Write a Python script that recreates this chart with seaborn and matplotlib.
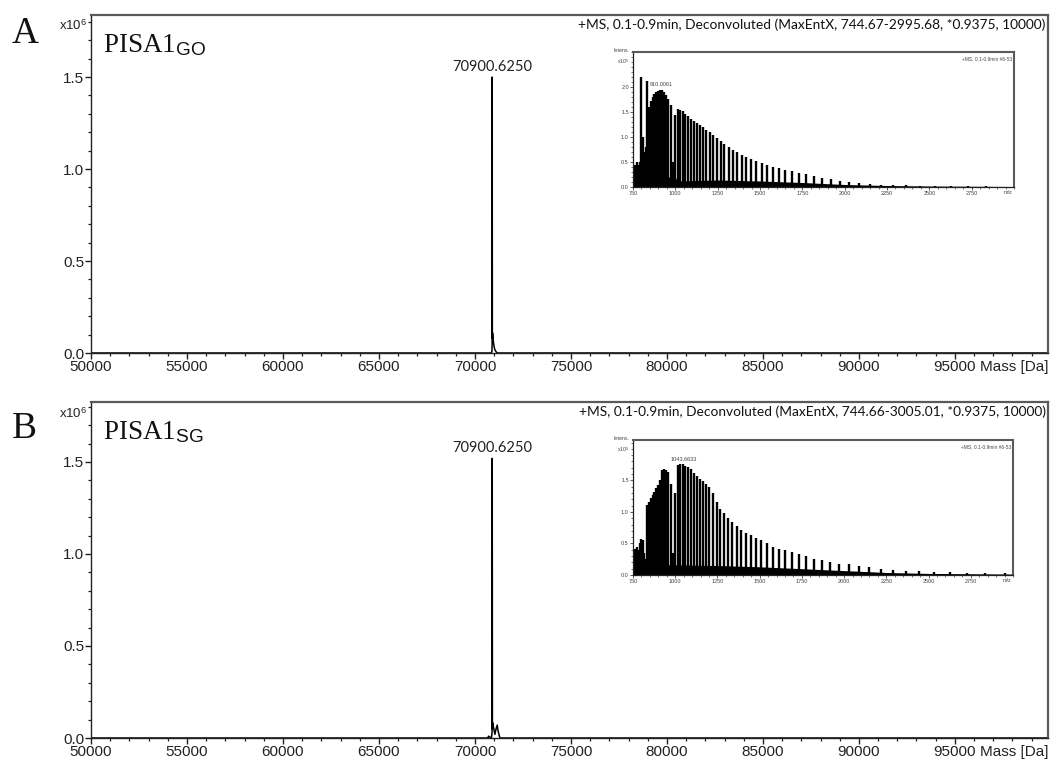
import matplotlib
matplotlib.use("Agg")
import matplotlib.pyplot as plt
import seaborn as sns
from matplotlib.ticker import MultipleLocator, FixedLocator

# ---------------- data ----------------
# main deconvoluted spectra (intensity in units of 1e6)
mass_A = [50000, 70850, 70885, 70895, 70900.625, 70906, 70915, 70935, 70960, 70990, 71030, 71080, 71150, 100000]
int_A = [0, 0, 0.01, 0.05, 1.50, 0.08, 0.11, 0.09, 0.06, 0.04, 0.02, 0.01, 0, 0]

mass_B = [50000, 70690, 70700, 70860, 70890, 70900.625, 70910, 70920, 70980, 71040, 71100, 71160, 71200, 71250, 71300, 100000]
int_B = [0, 0, 0.01, 0, 0.03, 1.52, 0.05, 0.083, 0.05, 0.02, 0.05, 0.07, 0.04, 0.02, 0, 0]

peak_label = "70900.6250"
peak_mass = 70900.625

# inset raw spectra: charge-state peak positions (m/z) and heights (x1e5)
mz_peaks = [747.3, 755.3, 763.4, 771.7, 780.1, 788.8, 797.6, 806.7, 816.0, 825.4,
            835.1, 845.0, 855.2, 865.6, 876.3, 887.3, 898.5, 910.0, 921.8, 933.9,
            946.3, 959.1, 972.2, 985.7, 999.6, 1013.9, 1028.5, 1043.6, 1059.2, 1075.2,
            1091.8, 1108.8, 1126.4, 1144.5, 1163.3, 1182.7, 1202.7, 1223.4, 1244.9, 1267.1,
            1290.1, 1314.0, 1338.7, 1364.5, 1391.2, 1419.0, 1447.9, 1478.1, 1509.5, 1542.3,
            1576.6, 1612.4, 1649.8, 1689.1, 1730.3, 1773.5, 1818.9, 1866.8, 1917.2, 1970.4,
            2026.7, 2086.3, 2149.5, 2216.6, 2288.1, 2364.3, 2445.8, 2533.1, 2626.9, 2727.9,
            2837.0, 2955.2]

h_A = [0.15, 0.30, 0.45, 0.50, 0.45, 0.50, 2.20, 1.00, 0.70, 0.80,
       2.12, 1.60, 1.72, 1.80, 1.86, 1.90, 1.93, 1.95, 1.94, 1.90,
       1.84, 1.77, 1.65, 0.50, 1.45, 1.57, 1.55, 1.52, 1.47, 1.42,
       1.37, 1.32, 1.28, 1.24, 1.20, 1.15, 1.10, 1.04, 0.98, 0.92,
       0.86, 0.80, 0.75, 0.70, 0.65, 0.61, 0.57, 0.53, 0.49, 0.45,
       0.41, 0.38, 0.35, 0.32, 0.29, 0.26, 0.22, 0.19, 0.16, 0.13,
       0.10, 0.08, 0.06, 0.05, 0.04, 0.035, 0.03, 0.025, 0.02, 0.02,
       0.015, 0.01]

h_B = [0.10, 0.20, 0.42, 0.45, 0.40, 0.50, 0.57, 0.55, 0.35, 0.25,
       1.11, 1.16, 1.22, 1.27, 1.32, 1.38, 1.43, 1.50, 1.66, 1.68,
       1.67, 1.63, 1.45, 0.35, 1.30, 1.75, 1.76, 1.76, 1.73, 1.71,
       1.68, 1.62, 1.57, 1.52, 1.49, 1.45, 1.40, 1.30, 1.15, 1.05,
       0.98, 0.90, 0.84, 0.78, 0.72, 0.67, 0.63, 0.59, 0.55, 0.50,
       0.45, 0.42, 0.39, 0.36, 0.33, 0.30, 0.26, 0.23, 0.20, 0.18,
       0.17, 0.15, 0.13, 0.10, 0.08, 0.07, 0.06, 0.05, 0.04, 0.035,
       0.03, 0.025]

floor_mz_A = [750, 760, 800, 1000, 1010, 1250, 1500, 1750, 2000, 2250, 2500, 3000]
floor_h_A = [0, 0.12, 0.20, 0.20, 0.12, 0.14, 0.12, 0.09, 0.05, 0.03, 0.02, 0.01]
floor_mz_B = [750, 760, 790, 830, 1000, 1250, 1500, 1750, 2000, 2250, 2500, 3000]
floor_h_B = [0, 0.10, 0.15, 0.17, 0.16, 0.15, 0.13, 0.10, 0.07, 0.04, 0.025, 0.015]

inset_label_A = ("910.0061", 910.0, 1.95)
inset_label_B = ("1043.6633", 1043.6, 1.76)

header_A = "+MS, 0.1-0.9min, Deconvoluted (MaxEntX, 744.67-2995.68, *0.9375, 10000)"
header_B = "+MS, 0.1-0.9min, Deconvoluted (MaxEntX, 744.66-3005.01, *0.9375, 10000)"
inset_header = "+MS, 0.1-0.9min #6-53"

x_major = 5000
inset_xticks = [750, 1000, 1250, 1500, 1750, 2000, 2250, 2500, 2750]

# ---------------- style ----------------
sns.set_style("ticks")
plt.rcParams["font.family"] = ["Liberation Sans", "DejaVu Sans"]
plt.rcParams["mathtext.fontset"] = "custom"
plt.rcParams["mathtext.rm"] = "Liberation Serif"
plt.rcParams["mathtext.sf"] = "Liberation Sans"
plt.rcParams["mathtext.it"] = "Liberation Serif:italic"
plt.rcParams["mathtext.bf"] = "Liberation Serif:bold"

W, H = 1050, 760
fig = plt.figure(figsize=(W / 100, H / 100), dpi=100)
fig.patch.set_facecolor("white")


def fig_rect(l, t, r, b):
    return [l / W, 1 - b / H, (r - l) / W, (b - t) / H]


def style_spines(ax, lw_lb=1.0, lw_tr=1.6):
    for s in ["left", "bottom"]:
        ax.spines[s].set_color("#222222")
        ax.spines[s].set_linewidth(lw_lb)
    for s in ["top", "right"]:
        ax.spines[s].set_visible(True)
        ax.spines[s].set_color("#5a5a5a")
        ax.spines[s].set_linewidth(lw_tr)


def main_panel(rect, mass, inten, ytop, letter, sub, header, ypix_letter, ypix_x10):
    ax = fig.add_axes(fig_rect(*rect))
    sns.lineplot(x=mass, y=inten, ax=ax, color="black", linewidth=1.1,
                 estimator=None, sort=False)
    ax.set_xlim(50000, 99850)
    ax.set_ylim(0, ytop)
    ax.xaxis.set_major_locator(MultipleLocator(x_major))
    ax.xaxis.set_minor_locator(MultipleLocator(1000))
    ax.yaxis.set_major_locator(MultipleLocator(0.5))
    ax.yaxis.set_minor_locator(MultipleLocator(0.1))
    ax.yaxis.set_major_formatter(matplotlib.ticker.FormatStrFormatter("%.1f"))
    ax.xaxis.set_major_formatter(matplotlib.ticker.FormatStrFormatter("%d"))
    ax.tick_params(axis="both", which="major", length=4, width=1.0, labelsize=11,
                   pad=1, direction="out", colors="#222222")
    ax.tick_params(axis="both", which="minor", length=2.5, width=0.9, direction="out",
                   colors="#222222")
    ax.set_xlabel("")
    ax.set_ylabel("")
    style_spines(ax)
    # raise the 0.0 label a little as in the reference
    fig.canvas.draw()
    labs = ax.get_yticklabels()
    if labs:
        labs[0].set_va("bottom")
    # texts
    ax.text(1.0, -0.0195, "Mass [Da]", transform=ax.transAxes, ha="right", va="top",
            fontsize=11, color="#222222")
    ax.text(0.9975, 0.972, header, transform=ax.transAxes, ha="right", va="center",
            fontsize=9.9, family=["Lato", "DejaVu Sans"], color="#111111")
    ax.annotate(peak_label, xy=(peak_mass, max(inten)), xytext=(0, 2.5),
                textcoords="offset points", ha="center", va="bottom",
                fontsize=10.5, family=["Lato", "DejaVu Sans"], color="#222222")
    ax.text(0.0125, (rect[3] - (rect[1] + 37)) / (rect[3] - rect[1]),
            r"PISA1$_{\mathsf{" + sub + "}}$", transform=ax.transAxes,
            ha="left", va="baseline", fontsize=19.5, family=["Liberation Serif"],
            color="#111111")
    fig.text(12 / W, 1 - ypix_letter / H, letter, ha="left", va="baseline",
             fontsize=27, family=["Liberation Serif"], color="#111111")
    fig.text(87 / W, 1 - ypix_x10 / H, r"x10$^{\mathsf{6}}$", ha="right", va="center",
             fontsize=9.5, color="#222222")
    return ax


def inset_panel(rect, h, floor_mz, floor_h, ymax, yticks, lab):
    ax = fig.add_axes(fig_rect(*rect))
    ax.fill_between(floor_mz, 0, floor_h, color="black", linewidth=0)
    ax.vlines(mz_peaks, 0, h, color="black", linewidth=1.7)
    ax.set_xlim(750, 3000)
    ax.set_ylim(0, ymax)
    ax.xaxis.set_major_locator(FixedLocator(inset_xticks))
    ax.xaxis.set_minor_locator(MultipleLocator(50))
    ax.yaxis.set_major_locator(FixedLocator(yticks))
    ax.yaxis.set_minor_locator(MultipleLocator(0.1))
    ax.yaxis.set_major_formatter(matplotlib.ticker.FormatStrFormatter("%.1f"))
    ax.tick_params(axis="both", which="major", length=2, width=0.6, labelsize=4,
                   pad=1, colors="#444444")
    ax.tick_params(axis="both", which="minor", length=1.2, width=0.5, colors="#444444")
    style_spines(ax, lw_lb=0.9, lw_tr=1.5)
    ax.text(0.995, -0.02, "m/z", transform=ax.transAxes, ha="right", va="top",
            fontsize=4, color="#444444")
    ax.text(-0.01, 1.03, "Intens.", transform=ax.transAxes, ha="right", va="top",
            fontsize=3.8, color="#444444")
    ax.text(-0.01, 0.96, r"x10$^{\mathsf{5}}$", transform=ax.transAxes, ha="right", va="top",
            fontsize=3.8, color="#444444")
    ax.text(0.995, 0.97, inset_header, transform=ax.transAxes, ha="right", va="top",
            fontsize=3.5, color="#444444")
    txt, x, y = lab
    ax.annotate(txt, xy=(x, y), xytext=(1, 1.5), textcoords="offset points",
                ha="center", va="bottom", fontsize=4, color="#444444")
    return ax


axA = main_panel((91, 15, 1048, 353), mass_A, int_A, 1.837, "A", "GO", header_A, 43, 26)
axB = main_panel((91, 402, 1048, 738), mass_B, int_B, 1.826, "B", "SG", header_B, 438, 414)

inset_panel((633, 52, 1014, 187), h_A, floor_mz_A, floor_h_A, 2.7,
            [0.0, 0.5, 1.0, 1.5, 2.0], inset_label_A)
inset_panel((633, 440, 1013, 575), h_B, floor_mz_B, floor_h_B, 2.14,
            [0.0, 0.5, 1.0, 1.5], inset_label_B)

fig.savefig("out.png", dpi=100, facecolor="white")
